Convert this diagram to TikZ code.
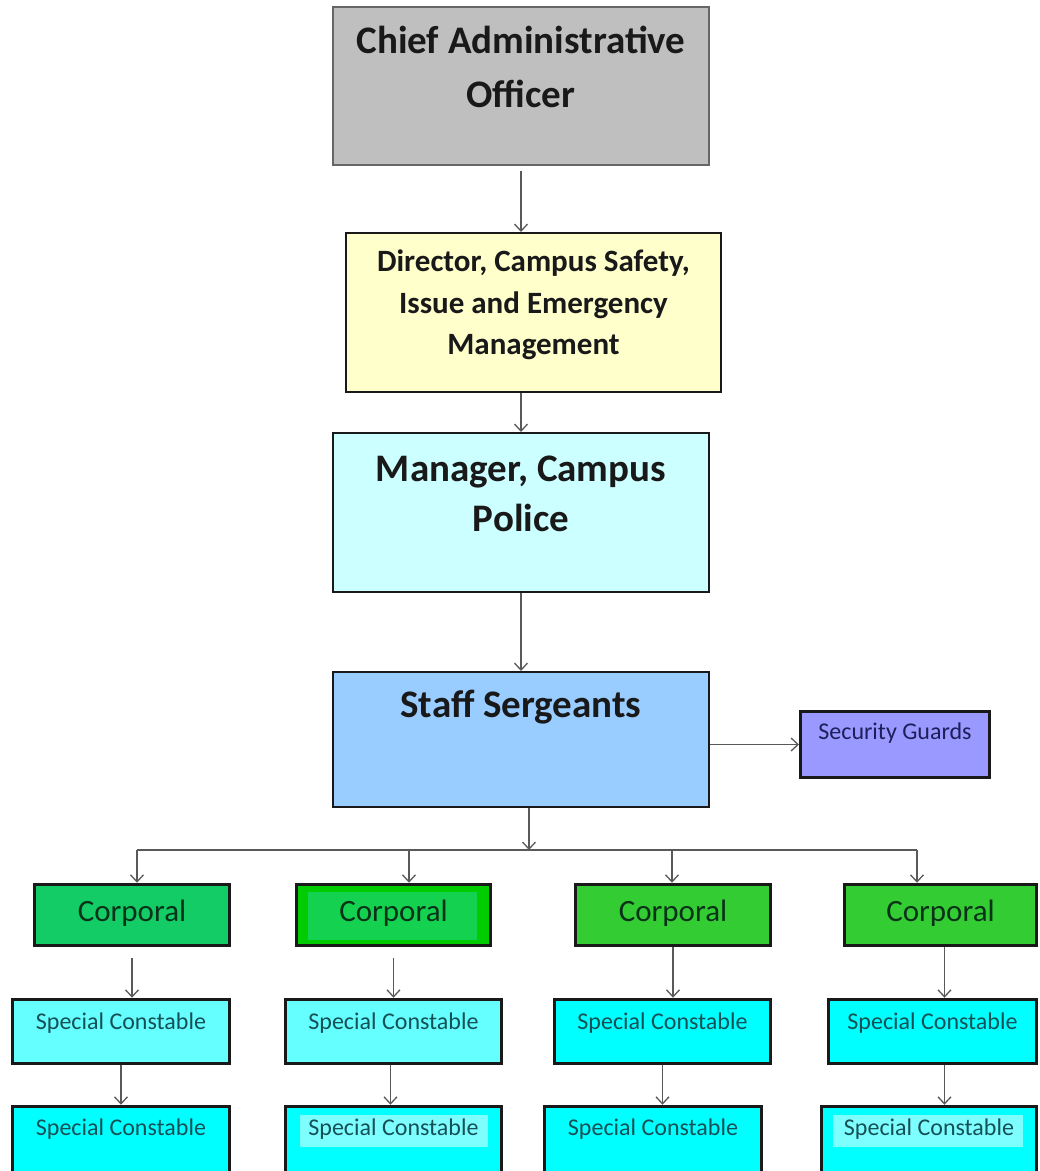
\documentclass[tikz,border=0pt]{standalone}
\usepackage{fontspec}
\setmainfont{Carlito}
\usetikzlibrary{
	arrows.meta,
	calc,
	positioning,
}
\definecolor{caofill}{RGB}{191,191,191}
\definecolor{dirfill}{RGB}{255,255,204}
\definecolor{mgrfill}{RGB}{204,255,255}
\definecolor{stafffill}{RGB}{153,204,255}
\definecolor{secfill}{RGB}{153,153,255}
\definecolor{cplA}{RGB}{20,204,102}
\definecolor{cplB}{RGB}{0,204,0}
\definecolor{cplBin}{RGB}{20,210,80}
\definecolor{cplC}{RGB}{51,204,51}
\definecolor{scpale}{RGB}{102,255,255}
\definecolor{scfull}{RGB}{0,255,255}
\definecolor{cpltext}{RGB}{10,50,25}
\definecolor{sctext}{RGB}{20,80,85}
\definecolor{sectext}{RGB}{30,30,90}
\tikzset{box/.style={
	draw=black!90,
	rectangle,
	inner sep=0mm,
	line width=2pt,
}}
\tikzset{low box/.style={
	box,
	line width=3.5pt,
}}
\tikzset{head text/.style={
	inner sep=0mm,
	align=center,
	text=black!90,
}}
\tikzset{link/.style={
	draw=black!65,
	line width=1.3pt,
	-{Straight Barb[length=7pt,width=13pt,line width=1.3pt]},
}}
\newcommand{\bigfont}{\fontsize{39}{54}\selectfont\bfseries}
\newcommand{\midfont}{\fontsize{31}{41.5}\selectfont\bfseries}
\newcommand{\scfont}{\fontsize{24}{28}\selectfont}

\begin{document}
\begin{tikzpicture}[x=1pt,y=-1pt]
\useasboundingbox (0,0) rectangle (1040,1171);
\clip (0,0) rectangle (1040,1171);

% top of the chain
\node[box, fill=caofill, draw=black!60, line width=1.2pt, minimum width=376, minimum height=158](cao) at (521,86) {};
\node[head text, font=\bigfont, below=19pt of cao.north](cao-t) {Chief Administrative\\Officer};

\node[box, fill=dirfill, minimum width=375, minimum height=159](dir) at (533.5,312.5) {};
\node[head text, font=\midfont, below=18pt of dir.north](dir-t) {Director, Campus Safety,\\Issue and Emergency\\Management};

\node[box, fill=mgrfill, minimum width=376, minimum height=159](mgr) at (521,512.5) {};
\node[head text, font=\fontsize{39}{50}\selectfont\bfseries, below=24pt of mgr.north](mgr-t) {Manager, Campus\\Police};

\node[box, fill=stafffill, minimum width=376, minimum height=135](staff) at (521,739.5) {};
\node[head text, font=\bigfont, below=18.5pt of staff.north](staff-t) {Staff Sergeants};

\node[box, fill=secfill, line width=3pt, minimum width=189, minimum height=66](sec) at (895,744.5) {};
\node[head text, font=\scfont, text=sectext, below=13pt of sec.north](sec-t) {Security Guards};

% corporals
\node[low box, fill=cplA, minimum width=195, minimum height=61](cpl1) at (132,915) {};
\node[low box, fill=cplB, minimum width=194, minimum height=61](cpl2) at (393.5,915) {};
\fill[cplBin] (308,892) rectangle (477,940);
\node[low box, fill=cplC, minimum width=195, minimum height=61](cpl3) at (673,915) {};
\node[low box, fill=cplC, minimum width=192, minimum height=61](cpl4) at (940.5,915) {};
\foreach \i in {1,...,4}
	\node[head text, font=\fontsize{31}{36}\selectfont, text=cpltext, below=17.5pt of cpl\i.north](cpl\i-t) {Corporal};

% special constables
\node[low box, fill=scpale, minimum width=217, minimum height=64](sc1a) at (121,1031.5) {};
\node[low box, fill=scpale, minimum width=216, minimum height=64](sc2a) at (393.5,1031.5) {};
\node[low box, fill=scfull, minimum width=216, minimum height=64](sc3a) at (662.5,1031.5) {};
\node[low box, fill=scfull, minimum width=208, minimum height=64](sc4a) at (932.5,1031.5) {};

\node[low box, fill=scfull, minimum width=217, minimum height=82](sc1b) at (121,1147.5) {};
\node[low box, fill=scfull, minimum width=216, minimum height=82](sc2b) at (393.5,1147.5) {};
\node[low box, fill=scfull, minimum width=217, minimum height=82](sc3b) at (653,1147.5) {};
\node[low box, fill=scfull, minimum width=215, minimum height=82](sc4b) at (929,1147.5) {};
\fill[scpale!85!white] (300,1115) rectangle (488,1147);
\fill[scpale!85!white] (833,1115) rectangle (1023,1147);

\foreach \i in {1,...,4}{
	\node[head text, font=\scfont, text=sctext, below=14.5pt of sc\i a.north](sc\i a-t) {Special Constable};
	\node[head text, font=\scfont, text=sctext, below=13.5pt of sc\i b.north](sc\i b-t) {Special Constable};
}

% chain down to staff sergeants
\draw[link] ([yshift=-5pt]cao.south) -- (cao.south |- dir.north);
\draw[link] (dir.south -| mgr.north) -- (mgr.north);
\draw[link] (mgr.south) -- (staff.north);

% staff -> guards
\draw[link] (staff.east |- sec.west) -- (sec.west);

% staff -> corporals
\coordinate (hub) at (529,850);
\coordinate (bus1) at (137,850);
\coordinate (bus2) at (409,850);
\coordinate (bus3) at (672,850);
\coordinate (bus4) at (917,850);
\draw[link] (staff.south -| hub) -- (hub);
\draw[draw=black!65, line width=1.3pt] (bus1) -- (bus4);
\foreach \i in {1,...,4}
	\draw[link] (bus\i) -- (bus\i |- cpl\i.north);

% corporals -> constables
\draw[link] ([yshift=-11pt]cpl1.south) -- (cpl1.south |- sc1a.north);
\draw[link] ([yshift=-11pt]cpl2.south) -- (cpl2.south |- sc2a.north);
\draw[link] (cpl3.south) -- (cpl3.south |- sc3a.north);
\draw[link] ([xshift=4pt]cpl4.south) -- ([xshift=4pt]cpl4.south |- sc4a.north);

% constables -> constables
\draw[link] (sc1a.south) -- (sc1a.south |- sc1b.north);
\draw[link] ([xshift=-3pt]sc2a.south) -- ([xshift=-3pt]sc2a.south |- sc2b.north);
\draw[link] (sc3a.south) -- (sc3a.south |- sc3b.north);
\draw[link] ([xshift=12pt]sc4a.south) -- ([xshift=12pt]sc4a.south |- sc4b.north);

\end{tikzpicture}
\end{document}
